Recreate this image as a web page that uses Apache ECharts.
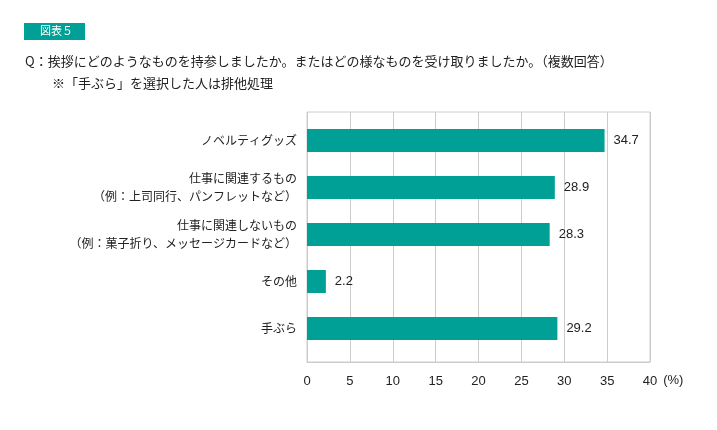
<!DOCTYPE html>
<html><head><meta charset="utf-8">
<script src="https://cdn.jsdelivr.net/npm/echarts@6/dist/echarts.min.js"></script>
<style>html,body{margin:0;padding:0;background:#fff}#c{width:717px;height:430px}</style>
</head><body><div id="c"></div>
<script>
const categories = [
  'ノベルティグッズ',
  '仕事に関連するもの\n（例：上司同行、パンフレットなど）',
  '仕事に関連しないもの\n（例：菓子折り、メッセージカードなど）',
  'その他',
  '手ぶら'
];
const values = [34.7, 28.9, 28.3, 2.2, 29.2];
const xTicks = [0, 5, 10, 15, 20, 25, 30, 35, 40];
const figureLabel = '図表５';
const question = 'Q：挨拶にどのようなものを持参しましたか。またはどの様なものを受け取りましたか。（複数回答）';
const note = '※「手ぶら」を選択した人は排他処理';
const unit = '(%)';

const JP = '"Noto Sans CJK JP", sans-serif';
const NUM = '"Liberation Sans", Arial, "Noto Sans CJK JP", sans-serif';
const teal = '#00a096';

const chart = echarts.init(document.getElementById('c'));
chart.setOption({
  animation: false,
  backgroundColor: '#fff',
  graphic: [
    { type: 'rect', left: 24, top: 23, shape: { width: 61, height: 17 }, style: { fill: teal } },
    { type: 'text', left: 40, top: 25, style: { text: figureLabel, fill: '#fff', font: '11px ' + JP } },
    { type: 'text', left: 25, top: 55, style: { text: question, fill: '#222', font: '13px ' + JP } },
    { type: 'text', left: 52, top: 77, style: { text: note, fill: '#222', font: '13px ' + JP } }
  ],
  grid: [
    { left: 307, width: 343, top: 117, height: 235, containLabel: false },
    { left: 307, width: 343, top: 112, height: 250, show: true, borderColor: '#cccccc', borderWidth: 1, backgroundColor: 'transparent', containLabel: false }
  ],
  xAxis: [
    { gridIndex: 0, type: 'value', min: 0, max: 40, interval: 5, show: false },
    { gridIndex: 1, type: 'value', min: xTicks[0], max: xTicks[xTicks.length - 1], interval: 5,
      axisLine: { show: true, lineStyle: { color: '#cccccc' } },
      axisTick: { show: false },
      splitLine: { show: true, lineStyle: { color: '#cccccc', width: 1 } },
      axisLabel: { color: '#222', fontSize: 13, fontFamily: NUM, margin: 13 },
      name: unit, nameLocation: 'end', nameGap: 13,
      nameTextStyle: { color: '#222', fontSize: 13, fontFamily: NUM, verticalAlign: 'top', padding: [12, 0, 0, 0] }
    }
  ],
  yAxis: [
    { gridIndex: 0, type: 'category', data: categories, inverse: true,
      axisLine: { show: false }, axisTick: { show: false },
      axisLabel: { color: '#222', fontSize: 12, fontFamily: JP, margin: 10, lineHeight: 18 }
    },
    { gridIndex: 1, type: 'value', show: false, min: 0, max: 1 }
  ],
  series: [{
    type: 'bar', xAxisIndex: 0, yAxisIndex: 0, data: values, barWidth: 23,
    itemStyle: { color: teal },
    label: { show: true, position: 'right', distance: 9, color: '#222', fontSize: 13, fontFamily: NUM,
      formatter: p => p.value.toFixed(1) }
  }]
});
</script></body></html>
